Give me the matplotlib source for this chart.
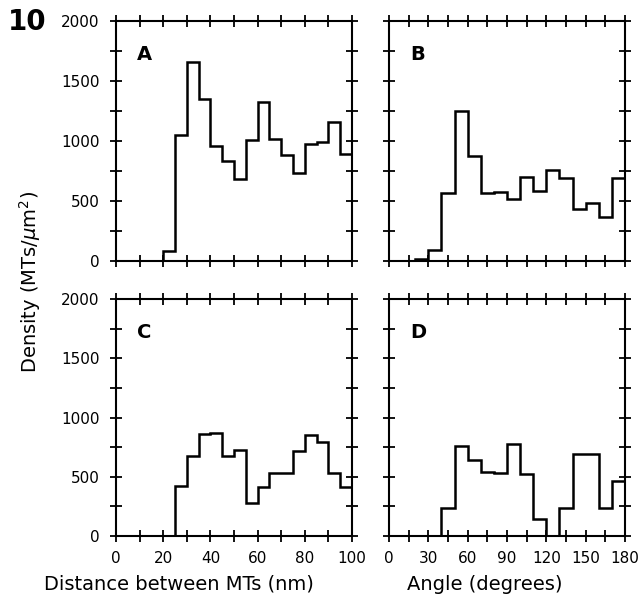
import numpy as np
import matplotlib.pyplot as plt

# distance histograms (5 nm bins, 0-100 nm)
dist_edges = np.arange(0, 105, 5)
dist_A = [0, 0, 0, 0, 85, 1050, 1656, 1353, 958, 833,
          680, 1006, 1322, 1017, 883, 736, 978, 990, 1156, 889]
dist_C = [0, 0, 0, 0, 0, 425, 676, 862, 873, 676,
          724, 282, 417, 535, 535, 715, 853, 794, 535, 414]

# angle histograms (10 degree bins, 0-180)
ang_edges = np.arange(0, 190, 10)
ang_B = [0, 0, 20, 89, 567, 1247, 875, 567, 572, 519,
         700, 583, 761, 694, 431, 483, 367, 694]
ang_D = [0, 0, 0, 0, 237, 761, 642, 544, 530, 777,
         524, 141, 0, 237, 693, 690, 237, 465]

fig = plt.figure(figsize=(6.42, 6.0), dpi=100)

W = 236 / 642
axA = fig.add_axes([116 / 642, 1 - 261 / 600, W, 240 / 600])
axB = fig.add_axes([389 / 642, 1 - 261 / 600, W, 240 / 600])
axC = fig.add_axes([116 / 642, 1 - 536 / 600, W, 237 / 600])
axD = fig.add_axes([389 / 642, 1 - 536 / 600, W, 237 / 600])

panels = [(axA, dist_edges, dist_A, 'A', 'dist'),
          (axB, ang_edges, ang_B, 'B', 'ang'),
          (axC, dist_edges, dist_C, 'C', 'dist'),
          (axD, ang_edges, ang_D, 'D', 'ang')]

for ax, edges, vals, letter, kind in panels:
    ax.stairs(vals, edges, color='black', linewidth=1.8)
    ax.set_ylim(0, 2000)
    if kind == 'dist':
        ax.set_xlim(0, 100)
        ax.set_xticks(np.arange(0, 101, 20))
        ax.set_xticks(np.arange(0, 101, 10), minor=True)
    else:
        ax.set_xlim(0, 180)
        ax.set_xticks(np.arange(0, 181, 30))
        ax.set_xticks(np.arange(0, 181, 15), minor=True)
    ax.set_yticks(np.arange(0, 2001, 500))
    ax.set_yticks(np.arange(0, 2001, 250), minor=True)
    ax.tick_params(which='both', direction='inout', length=8, width=1.3,
                   top=True, right=True, labelsize=11)
    ax.tick_params(axis='y', pad=8)
    ax.tick_params(axis='x', pad=7)
    for s in ax.spines.values():
        s.set_linewidth(1.5)
    ax.text(0.09, 0.9, letter, transform=ax.transAxes, fontsize=14,
            fontweight='bold', va='top', ha='left')

axA.tick_params(labelbottom=False)
axB.tick_params(labelbottom=False, labelleft=False)
axD.tick_params(labelleft=False)

fig.text(179 / 642, 1 - 584 / 600, 'Distance between MTs (nm)', fontsize=14,
         ha='center', va='center')
fig.text(485 / 642, 1 - 584 / 600, 'Angle (degrees)', fontsize=14,
         ha='center', va='center')
fig.text(30 / 642, 1 - 282 / 600, r'Density (MTs/$\mu$m$^2$)', rotation=90,
         fontsize=14, ha='center', va='center')
fig.text(8 / 642, 1 - 22 / 600, '10', fontsize=20, fontweight='bold',
         ha='left', va='center')

fig.savefig('out.png', dpi=100)
